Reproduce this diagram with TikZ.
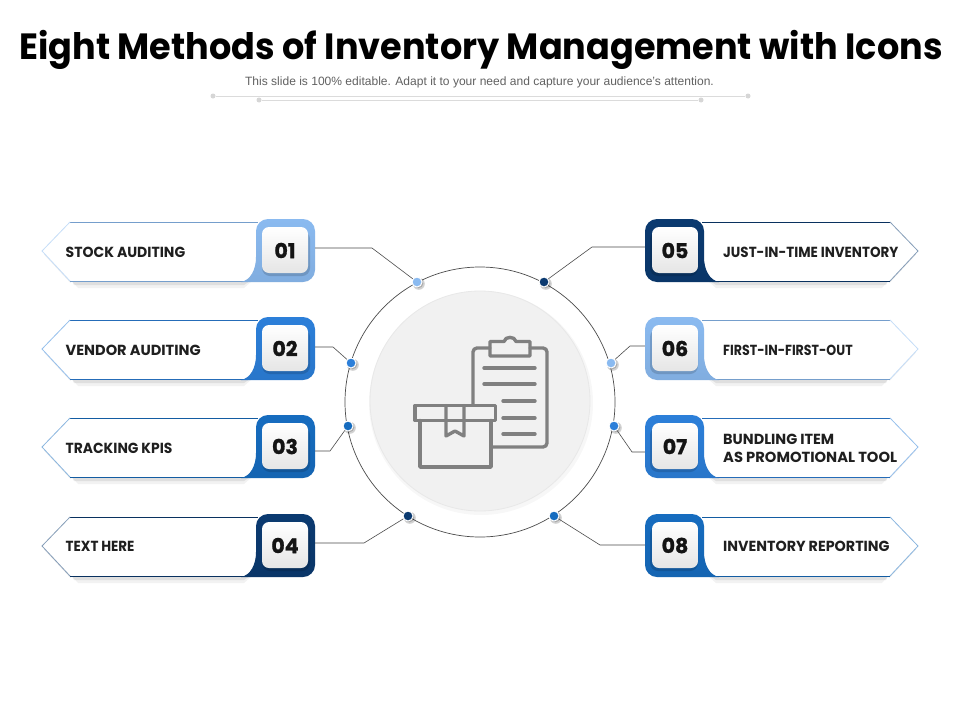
\documentclass[tikz,border=0pt]{standalone}
\usepackage{fontspec}
\usepackage{graphicx}
\setmainfont{Liberation Sans}
\newfontfamily\ttlfont{Poppins}[FakeStretch=0.96]
\newfontfamily\labfont{Poppins}[FakeStretch=0.96]
\newfontfamily\numfont{Poppins}[FakeBold=1.2]
\definecolor{cLight}{HTML}{8ABAF0}
\definecolor{cMid}{HTML}{2C7FD9}
\definecolor{cDeep}{HTML}{166CBF}
\definecolor{cNavy}{HTML}{0B3A70}
\definecolor{cIcon}{HTML}{808080}
\newcommand{\labw}[2]{\scalebox{#1}[1]{#2}}
\tikzset{
  x=1pt,y=-1pt,
  rulegrey/.style={draw=black!14,line width=1pt},
  ruledot/.style={circle,fill=black!16,inner sep=0,minimum size=5pt},
  labeltext/.style={inner sep=0,anchor=west,align=left,font=\labfont\fontsize{14.6}{18}\selectfont\bfseries,text=black!88},
  numtext/.style={inner sep=0,font=\numfont\fontsize{20.5}{20}\selectfont\bfseries,text=black!92},
  leader/.style={draw=black!70,line width=.6pt},
  ringdot/.style={circle,draw=white,line width=1pt,inner sep=0,minimum size=10pt},
  iconline/.style={draw=cIcon,line width=3.4pt,line cap=round,line join=round},
  numbox/.style={rounded corners=7pt,inner sep=0,minimum width=46pt,minimum height=46pt,
    top color=white,bottom color=black!10,draw=none},
  tabanchor/.style={inner sep=0,minimum width=59pt,minimum height=63pt},
}
% #1 id, #2 transform, #3 colour, #4 number
\newcommand{\rowshape}[4]{%
  \begin{scope}[#2]
    \fill[black,opacity=.05] (72,62) -- (252,62) -- (244,69) -- (78,69) -- cycle;
    \fill[black,opacity=.08] (72,62) -- (250,62) -- (244,66) -- (74,66) -- cycle;
    \draw[black,opacity=.08,line width=2pt] (45,35) -- (71,63);
    \fill[white] (42,32) -- (70,3) -- (258,3) -- (258,62) -- (70,62) -- cycle;
    \draw[#3!85!black,line width=.7pt] (70,3) -- (258,3);
    \draw[#3!85!black,line width=.7pt] (70,62) -- (244,62);
    \draw[#3!50!white,line width=.8pt] (70,3) -- (42,32) -- (70,62);
    \path[top color=#3,bottom color=#3!93!black] (256,38) [rounded corners=12pt] -- (256,0) -- (315,0) -- (315,63) [sharp corners] -- (241,63)
       .. controls (251,61) and (256,50) .. (256,38) -- cycle;
    \fill[black,opacity=.14,rounded corners=8pt] (262,12) rectangle (310,57);
    \node[tabanchor] (tab#1) at (285.5,31.5) {};
    \node[numbox] (box#1) at (285,31) {};
    \node[numtext] (num#1) at (285,31.5) {#4};
  \end{scope}}
\newcommand{\ringmark}[3]{%
  \fill[black,opacity=.18] (#2)++(1.8,1.8) circle[radius=6];
  \fill[black,opacity=.18] (#2)++(1.3,1.3) circle[radius=5];
  \node[ringdot,fill=#3] (dot#1) at (#2) {};}
\begin{document}
\begin{tikzpicture}
\useasboundingbox (0,0) rectangle (960,720);
\fill[white] (0,0) rectangle (960,720);
% title
\node[inner sep=0,font=\ttlfont\fontsize{36.5}{40}\selectfont\bfseries,text=black] (title) at (481,50) {Eight Methods of Inventory Management with Icons};
\node[inner sep=0,font=\fontsize{12.04}{14}\selectfont,text=black!62] (subtitle) at (479.5,82) {This slide is 100\% editable. Adapt it to your need and capture your audience’s attention.};
\node[ruledot] (ra) at (213,96) {};
\node[ruledot] (rb) at (748,96) {};
\node[ruledot] (rc) at (259,100) {};
\node[ruledot] (rd) at (701,100) {};
\draw[rulegrey] (ra) -- (rb);
\draw[rulegrey] (rc) -- (rd);
% centre
\node[circle,draw=black!70,line width=.7pt,inner sep=0,minimum size=270pt] (ring) at (480,402) {};
\fill[black,opacity=.03] (481,403) circle[radius=112];
\node[circle,fill=black!5.5,draw=black!9,line width=.8pt,inner sep=0,minimum size=220pt] (disc) at (480,401) {};
% icon
\draw[iconline,rounded corners=4pt] (473,404) -- (473,348) -- (490,348);
\draw[iconline,rounded corners=4pt] (530,348) -- (547,348) -- (547,447) -- (492,447);
\draw[iconline] (490,356) -- (490,341.5) -- (504,341.5) .. controls (505,336) and (515,336) .. (516,341.5) -- (530,341.5) -- (530,356) -- cycle;
\draw[iconline] (484,368) -- (535,368);
\draw[iconline] (484,384) -- (535,384);
\draw[iconline] (503,401) -- (535,401);
\draw[iconline] (503,418) -- (535,418);
\draw[iconline] (503,434) -- (535,434);
\draw[iconline] (415,405.5) rectangle (495.5,420.5);
\draw[iconline] (420,420.5) -- (420,467) -- (491,467) -- (491,420.5);
\draw[iconline] (446,405.5) -- (446,436) -- (455,431) -- (464,436) -- (464,405.5);
% rows
\rowshape{1}{shift={(0,219)}}{cLight}{01}
\rowshape{2}{shift={(0,317)}}{cMid}{02}
\rowshape{3}{shift={(0,415)}}{cDeep}{03}
\rowshape{4}{shift={(0,514)}}{cNavy}{04}
\rowshape{5}{shift={(960,219)},xscale=-1}{cNavy}{05}
\rowshape{6}{shift={(960,317)},xscale=-1}{cLight}{06}
\rowshape{7}{shift={(960,415)},xscale=-1}{cMid}{07}
\rowshape{8}{shift={(960,514)},xscale=-1}{cDeep}{08}
% labels
\node[labeltext] (lab1) at (65.5,252) {STOCK AUDITING};
\node[labeltext] (lab2) at (65.5,350) {\labw{1.04}{VENDOR AUDITING}};
\node[labeltext] (lab3) at (65.5,448) {\labw{0.99}{TRACKING KPIS}};
\node[labeltext] (lab4) at (65.5,546) {\labw{0.96}{TEXT HERE}};
\node[labeltext] (lab5) at (723,252) {\labw{0.96}{JUST-IN-TIME INVENTORY}};
\node[labeltext] (lab6) at (723,350) {\labw{0.90}{FIRST-IN-FIRST-OUT}};
\node[labeltext] (lab7) at (723,448) {\labw{1.03}{BUNDLING ITEM}\\\labw{1.05}{AS PROMOTIONAL TOOL}};
\node[labeltext] (lab8) at (723,546) {\labw{1.02}{INVENTORY REPORTING}};
% ring marks
\ringmark{1}{417,282}{cLight}
\ringmark{2}{351,363}{cMid}
\ringmark{3}{348,426}{cDeep}
\ringmark{4}{408,516}{cNavy}
\ringmark{5}{544,282}{cNavy}
\ringmark{6}{611,363}{cLight}
\ringmark{7}{614,426}{cMid}
\ringmark{8}{554,516}{cDeep}
% connectors
\coordinate (b1) at (372,248);
\coordinate (b2) at (333,347);
\coordinate (b3) at (330,451);
\coordinate (b4) at (364,543);
\coordinate (b5) at (592,247);
\coordinate (b6) at (630,346);
\coordinate (b7) at (632,452);
\coordinate (b8) at (600,545);
\draw[leader] (tab1.east |- b1) -- (b1) -- (dot1);
\draw[leader] (tab2.east |- b2) -- (b2) -- (dot2);
\draw[leader] (tab3.east |- b3) -- (b3) -- (dot3);
\draw[leader] (tab4.east |- b4) -- (b4) -- (dot4);
\draw[leader] (tab5.west |- b5) -- (b5) -- (dot5);
\draw[leader] (tab6.west |- b6) -- (b6) -- (dot6);
\draw[leader] (tab7.west |- b7) -- (b7) -- (dot7);
\draw[leader] (tab8.west |- b8) -- (b8) -- (dot8);
\end{tikzpicture}
\end{document}
